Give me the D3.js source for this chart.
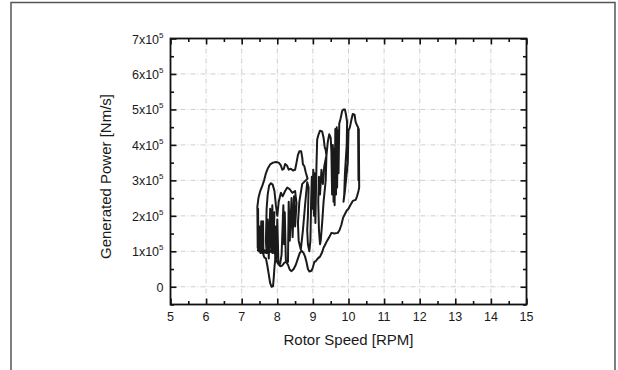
<!DOCTYPE html>
<html>
<head>
<meta charset="utf-8">
<script src="https://cdn.jsdelivr.net/npm/d3@7"></script>
<style>
  html, body { margin: 0; padding: 0; background: #fff; }
  svg { display: block; font-family: "Liberation Sans", Arial, sans-serif; }
  .grid line { stroke: #cfcfcf; stroke-width: 1; stroke-dasharray: 5,2,1,2; }
</style>
</head>
<body>
<div id="chart"></div>
<script>
// [rotor speed (RPM), generated power (x10^5 Nm/s)] in order
const trace = [
  [7.45, 1.00], [7.46, 1.05], [7.46, 2.20], [7.47, 1.10], [7.49, 1.00], [7.50, 1.70], [7.51, 1.00],
  [7.53, 0.95], [7.55, 1.85], [7.56, 1.10], [7.58, 0.95], [7.60, 1.85], [7.61, 0.90], [7.64, 0.82],
  [7.68, 0.80], [7.72, 0.60], [7.76, 0.35], [7.80, 0.10], [7.84, 0.00], [7.88, 0.02], [7.90, 0.25],
  [7.92, 0.55], [7.94, 0.75], [7.95, 1.70], [7.97, 0.80], [8.00, 1.90], [8.03, 0.70], [8.08, 0.65],
  [8.12, 0.90], [8.17, 2.30], [8.19, 1.20], [8.21, 2.10], [8.24, 0.75], [8.30, 0.70], [8.32, 2.40],
  [8.35, 1.30], [8.40, 2.50], [8.43, 1.40], [8.47, 2.55], [8.50, 1.70], [8.54, 2.35],
  [8.50, 2.70], [8.42, 2.65], [8.35, 2.75], [8.28, 2.80], [8.22, 2.70], [8.15, 2.55], [8.10, 2.65],
  [8.04, 2.40], [8.00, 2.00], [7.96, 2.30], [7.92, 2.70], [7.87, 2.88], [7.82, 2.92], [7.77, 2.85],
  [7.73, 2.60], [7.70, 2.20], [7.68, 1.30], [7.70, 0.95], [7.73, 1.90], [7.76, 0.80], [7.80, 2.20],
  [7.83, 1.00], [7.86, 2.30], [7.89, 1.20], [7.92, 2.10],
  [7.80, 1.15], [7.70, 1.00], [7.60, 1.05], [7.50, 1.05], [7.45, 1.10], [7.44, 2.25], [7.47, 2.50],
  [7.52, 2.70], [7.58, 2.85], [7.63, 3.00], [7.68, 3.20], [7.74, 3.35], [7.80, 3.45], [7.88, 3.50],
  [7.96, 3.52], [8.04, 3.50], [8.10, 3.42], [8.14, 3.30], [8.18, 3.32], [8.22, 3.46], [8.27, 3.42],
  [8.32, 3.30], [8.38, 3.33], [8.44, 3.28], [8.50, 3.30], [8.54, 3.50], [8.58, 3.72], [8.62, 3.82],
  [8.67, 3.82], [8.70, 3.65], [8.72, 3.45], [8.76, 3.40], [8.80, 3.22], [8.85, 3.05],
  [8.70, 2.90], [8.62, 2.40], [8.58, 1.80], [8.60, 1.30], [8.66, 1.05], [8.72, 1.60], [8.78, 2.30],
  [8.84, 2.95], [8.88, 2.80], [8.86, 2.00], [8.84, 1.60], [8.86, 1.20], [8.90, 1.00], [8.93, 1.30],
  [8.95, 2.40], [8.97, 3.10], [8.99, 2.20], [9.01, 3.30], [9.03, 2.00], [9.05, 3.20], [9.07, 1.80],
  [9.09, 2.90], [9.10, 3.40], [9.12, 4.15], [9.16, 4.30], [9.20, 4.40], [9.26, 4.38], [9.30, 4.20],
  [9.33, 3.95], [9.36, 3.85], [9.38, 3.70], [9.36, 3.00], [9.30, 2.40], [9.26, 1.80], [9.22, 1.30],
  [9.20, 1.20], [9.17, 1.60], [9.15, 2.40], [9.17, 3.10], [9.20, 2.60], [9.24, 3.30], [9.28, 2.90],
  [9.32, 3.40], [9.38, 3.70], [9.42, 4.10], [9.46, 4.30], [9.50, 4.20], [9.52, 3.80], [9.54, 2.60],
  [9.56, 4.00], [9.58, 2.40], [9.60, 3.90], [9.61, 2.30], [9.63, 4.45], [9.65, 2.60], [9.67, 4.50],
  [9.68, 2.80], [9.70, 4.40], [9.72, 3.20], [9.74, 4.60], [9.78, 4.75], [9.82, 4.95], [9.86, 5.00],
  [9.90, 5.00], [9.93, 4.85], [9.96, 4.65], [9.95, 4.00], [9.90, 3.20], [9.88, 2.60], [9.86, 2.40],
  [9.90, 2.70], [9.98, 3.50], [10.00, 4.40], [10.04, 4.50], [10.08, 4.70], [10.12, 4.87],
  [10.17, 4.85], [10.20, 4.65], [10.24, 4.55], [10.27, 4.50], [10.28, 3.00], [10.29, 4.45],
  [10.30, 2.80], [10.28, 2.70], [10.24, 2.55], [10.20, 2.45], [10.12, 2.42], [10.05, 2.30],
  [10.00, 2.20], [9.95, 2.15], [9.90, 2.05], [9.85, 1.95], [9.80, 1.75], [9.75, 1.60], [9.70, 1.52],
  [9.60, 1.50], [9.52, 1.52], [9.46, 1.40], [9.40, 1.30], [9.35, 1.20], [9.30, 1.10], [9.25, 0.95],
  [9.20, 0.85], [9.14, 0.80], [9.08, 0.72], [9.04, 0.70], [9.00, 0.55], [8.96, 0.45], [8.90, 0.43],
  [8.86, 0.50], [8.82, 0.70], [8.78, 0.85], [8.74, 0.95], [8.68, 1.02], [8.63, 0.95], [8.58, 0.80],
  [8.52, 0.62], [8.46, 0.50], [8.40, 0.44], [8.35, 0.48], [8.30, 0.62], [8.25, 0.70], [8.20, 0.68],
  [8.14, 0.60], [8.08, 0.58], [8.02, 0.65], [7.97, 0.75], [7.93, 0.95], [7.90, 1.40], [7.88, 0.95],
  [7.80, 1.00], [7.70, 0.95], [7.60, 0.98], [7.50, 1.00], [7.45, 1.00]
];

const xTicks = [5, 6, 7, 8, 9, 10, 11, 12, 13, 14, 15];
const yTicks = [0, 1e5, 2e5, 3e5, 4e5, 5e5, 6e5, 7e5];
const yTickLabels = ['0', '1x10', '2x10', '3x10', '4x10', '5x10', '6x10', '7x10'];

const W = 618, H = 370;
const plot = { left: 170.5, right: 526.5, top: 38.5, bottom: 304.5 };

const svg = d3.select('#chart').append('svg')
  .attr('width', W)
  .attr('height', H);

// outer frame (no bottom edge)
svg.append('path')
  .attr('d', `M11,${H}V2.5H615V${H}`)
  .attr('fill', 'none')
  .attr('stroke', '#555')
  .attr('stroke-width', 1.5);

const x = d3.scaleLinear().domain([5, 15]).range([plot.left, plot.right]);
const y = d3.scaleLinear().domain([-50000, 700000]).range([plot.bottom, plot.top]);

// grid
const grid = svg.append('g').attr('class', 'grid');
grid.selectAll('.gx')
  .data(xTicks.slice(1, -1))
  .join('line')
  .attr('x1', d => x(d)).attr('x2', d => x(d))
  .attr('y1', plot.top).attr('y2', plot.bottom);
grid.selectAll('.gy')
  .data(yTicks.slice(0, -1))
  .join('line')
  .attr('x1', plot.left).attr('x2', plot.right)
  .attr('y1', d => y(d)).attr('y2', d => y(d));

// data trace
svg.append('path')
  .datum(trace)
  .attr('fill', 'none')
  .attr('stroke', '#1a1a1a')
  .attr('stroke-width', 2)
  .attr('stroke-linejoin', 'round')
  .attr('d', d3.line().x(d => x(d[0])).y(d => y(d[1] * 1e5)));

// frame ticks, inward on all sides
const xMinor = d3.range(5.5, 15, 1);
const yMinor = d3.range(-50000, 700001, 100000);

function tickAxis(axisFn, scale, values, size, transform) {
  const g = svg.append('g')
    .attr('transform', transform)
    .call(axisFn(scale).tickValues(values).tickSize(size).tickFormat(''));
  g.select('.domain').remove();
  g.selectAll('line').attr('stroke', '#111').attr('stroke-width', 1.6);
}
tickAxis(d3.axisBottom, x, xTicks, -6, `translate(0,${plot.bottom})`);
tickAxis(d3.axisBottom, x, xMinor, -3.5, `translate(0,${plot.bottom})`);
tickAxis(d3.axisTop, x, xTicks, -6, `translate(0,${plot.top})`);
tickAxis(d3.axisTop, x, xMinor, -3.5, `translate(0,${plot.top})`);
tickAxis(d3.axisLeft, y, yTicks, -6, `translate(${plot.left},0)`);
tickAxis(d3.axisLeft, y, yMinor, -3.5, `translate(${plot.left},0)`);
tickAxis(d3.axisRight, y, yTicks, -6, `translate(${plot.right},0)`);
tickAxis(d3.axisRight, y, yMinor, -3.5, `translate(${plot.right},0)`);

svg.append('rect')
  .attr('x', plot.left).attr('y', plot.top)
  .attr('width', plot.right - plot.left)
  .attr('height', plot.bottom - plot.top)
  .attr('fill', 'none')
  .attr('stroke', '#111')
  .attr('stroke-width', 1.8);

// x tick labels
svg.append('g').selectAll('text')
  .data(xTicks)
  .join('text')
  .attr('x', d => x(d))
  .attr('y', plot.bottom + 16)
  .attr('text-anchor', 'middle')
  .attr('font-size', '12.5px')
  .attr('fill', '#1a1a1a')
  .text(d => d);

// y tick labels with superscript exponent
const yl = svg.append('g').selectAll('text')
  .data(yTicks)
  .join('text')
  .attr('x', plot.left - 7)
  .attr('y', d => y(d) + 5)
  .attr('text-anchor', 'end')
  .attr('font-size', '12.5px')
  .attr('fill', '#1a1a1a');
yl.append('tspan').text((d, i) => yTickLabels[i]);
yl.filter(d => d !== 0).append('tspan')
  .attr('font-size', '8px')
  .attr('dy', -6)
  .text('5');

// axis titles
svg.append('text')
  .attr('x', (plot.left + plot.right) / 2)
  .attr('y', 345)
  .attr('text-anchor', 'middle')
  .attr('font-size', '15px')
  .attr('fill', '#1a1a1a')
  .text('Rotor Speed [RPM]');

svg.append('text')
  .attr('transform', `translate(111,${(plot.top + plot.bottom) / 2 + 5}) rotate(-90)`)
  .attr('text-anchor', 'middle')
  .attr('font-size', '15px')
  .attr('fill', '#1a1a1a')
  .text('Generated Power [Nm/s]');
</script>
</body>
</html>
